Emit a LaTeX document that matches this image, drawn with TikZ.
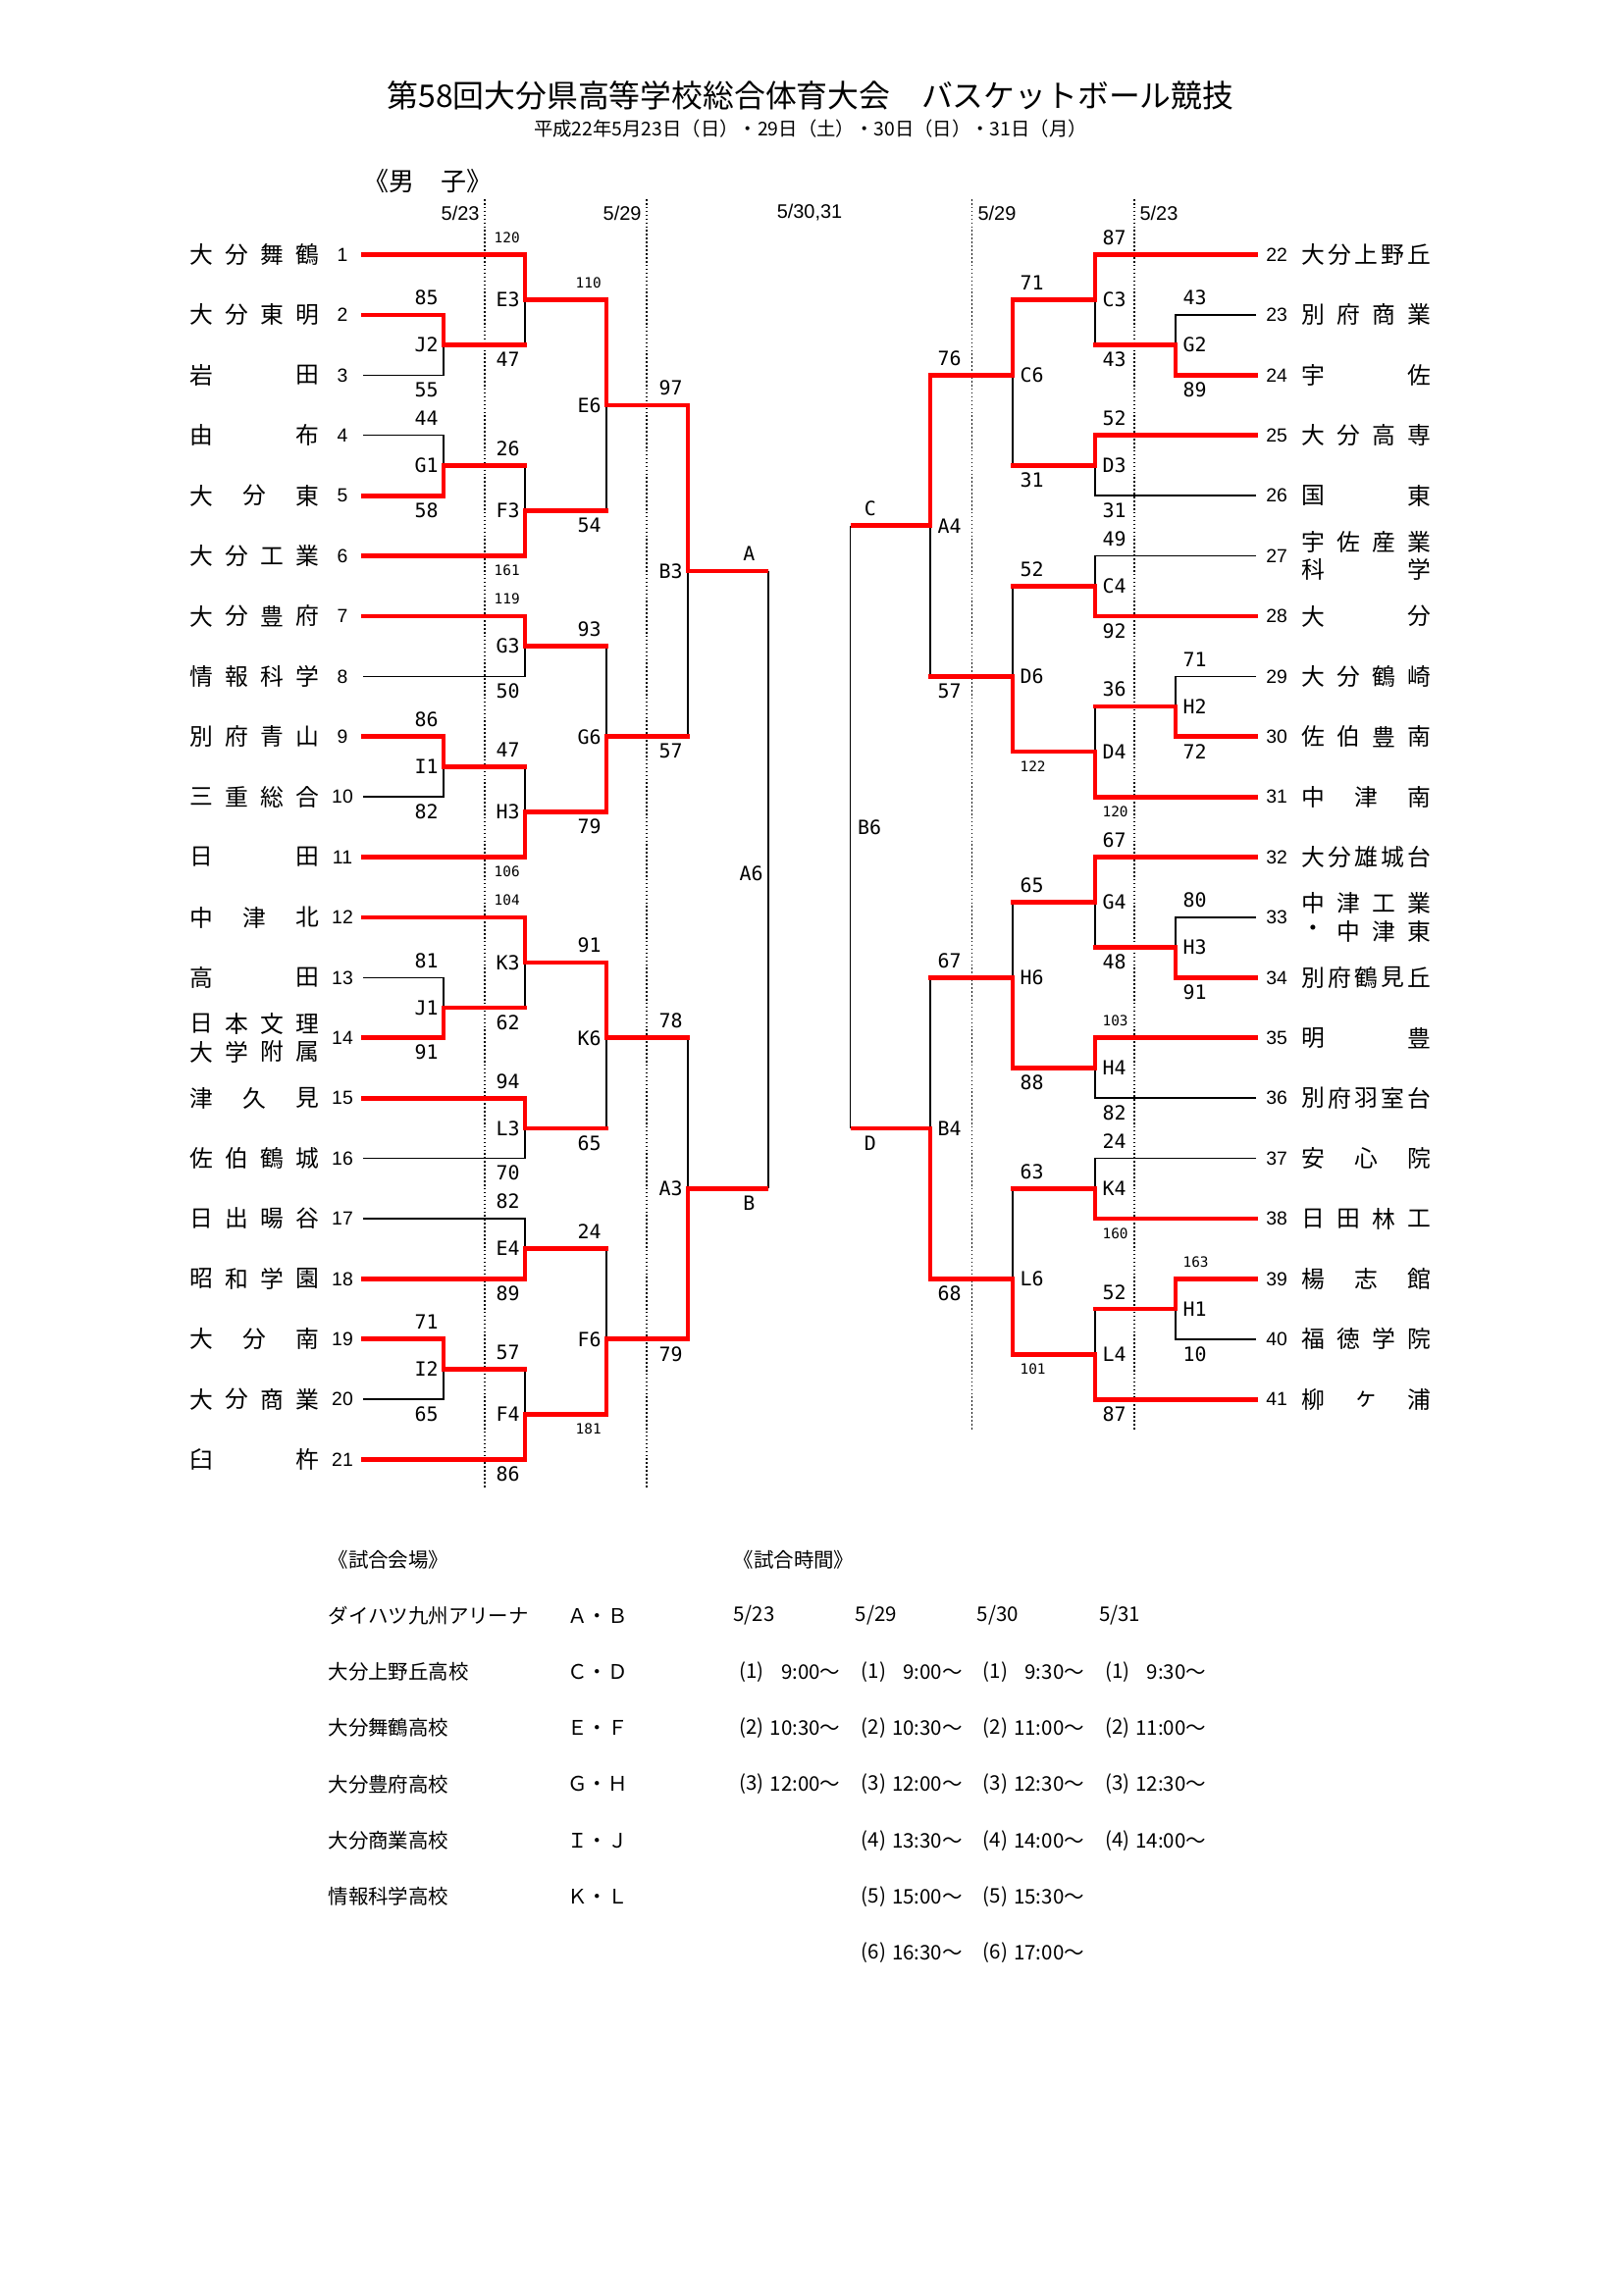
\documentclass[tikz,border=0pt]{standalone}
\usepackage{fontspec}
\setmainfont{Noto Sans CJK JP}
\newfontfamily\monofont{DejaVu Sans Mono}
\newfontfamily\arialfont{Liberation Sans}
\usetikzlibrary{positioning, calc}
\definecolor{winred}{RGB}{255,0,0}
\tikzset{
  winline/.style={draw=winred, line width=0.6mm, line cap=rect},
  loseline/.style={draw=black, line width=0.18mm},
  dayline/.style={draw=black, line width=0.2mm, dash pattern=on 0.2mm off 0.3mm},
  teamname/.style={inner sep=0pt, font=\fontsize{8.6}{10}\selectfont},
  teamno/.style={inner sep=0pt, font=\arialfont\fontsize{7}{8}\selectfont},
  glabel/.style={inner sep=0pt, font=\monofont\fontsize{7.2}{8}\selectfont},
  topL/.style={glabel, anchor=east, xshift=-0.6mm, yshift=2.2mm},
  botL/.style={glabel, anchor=east, xshift=-0.6mm, yshift=-1.9mm},
  topR/.style={glabel, anchor=west, xshift=0.9mm, yshift=2.2mm},
  botR/.style={glabel, anchor=west, xshift=0.9mm, yshift=-1.9mm},
  datelbl/.style={inner sep=0pt, font=\arialfont\fontsize{7.2}{8}\selectfont},
  tabtext/.style={inner sep=0pt, font=\fontsize{7.4}{9}\selectfont}
}
% small score
\newcommand\smsc[1]{{\fontsize{5.2}{6}\selectfont #1}}
% winner #1, loser team line #2, game #3
\newcommand\game[3]{%
  \draw[loseline] (#2) -| (#3);
  \draw[winline] (#1) -| (#3);}
% winner #1, loser game line #2, game #3
\newcommand\gamex[3]{%
  \draw[loseline] (#2) -| (#3);
  \draw[winline] (#2) -- (#2 -| #3);
  \draw[winline] (#1) -| (#3);}
% game label and scores, left and right half
\newcommand\resL[6]{%
  \node[glabel, left=0.6mm of #1] (#1l) {#2};
  \node[topL] (#1a) at (#3 -| #1) {#5};
  \node[botL] (#1b) at (#4 -| #1) {#6};}
\newcommand\resR[6]{%
  \node[glabel, right=0.9mm of #1] (#1l) {#2};
  \node[topR] (#1a) at (#3 -| #1) {#5};
  \node[botR] (#1b) at (#4 -| #1) {#6};}
% school name spread over a fixed width
\newcommand\spreadname[5][]{%
  \foreach \ch [count=\k] in {#5} {\global\let\nch\k}
  \foreach \ch [count=\k from 0] in {#5}
    \node[teamname, #1] (#2-\k) at ({#3+108*\k/(\nch-1)}, #4) {\ch};}

\begin{document}
\begin{tikzpicture}[x=0.127mm, y=-0.127mm]
\useasboundingbox (0,0) rectangle (1654,2339);

% Title
\node[font=\fontsize{11.5}{13}\selectfont] (title) at (826,97) {第58回大分県高等学校総合体育大会　バスケットボール競技};
\node[font=\fontsize{7}{8}\selectfont] (period) at (826,131) {平成22年5月23日（日）・29日（土）・30日（日）・31日（月）};
\node[font=\fontsize{9.4}{11}\selectfont] (boys) at (436,185) {《男　子》};

% Round dates
\node[datelbl, anchor=east] (day1) at (489,217) {5/23};
\node[datelbl, anchor=east] (day2) at (654,217) {5/29};
\node[datelbl] (day3) at (825,217) {5/30,31};
\node[datelbl, anchor=west] (day4) at (996,217) {5/29};
\node[datelbl, anchor=west] (day5) at (1161,217) {5/23};
\foreach \x/\y in {494/1517, 659/1517, 990.5/1457, 1156/1457}
  \draw[dayline] (\x,203) -- (\x,\y);

\begin{scope}[yshift=-32.96mm, y=-7.798mm]
  % Team lines
  \foreach \rw [count=\nn] in {0,...,20} \coordinate (t\nn) at (370,\rw);
  \foreach \rw [count=\nn from 22] in {0,...,19} \coordinate (t\nn) at (1280,\rw);
  \foreach \nn [count=\rw from 0] in {1,...,21} \node[teamno] (no\nn) at (349,\rw) {\nn};
  \foreach \nn [count=\rw from 0] in {22,...,41} \node[teamno] (no\nn) at (1301,\rw) {\nn};

  % Games, left half
  \coordinate (gJ2) at (452,1.5);
  \coordinate (gE3) at (535,0.75);
  \coordinate (gG1) at (452,3.5);
  \coordinate (gF3) at (535,4.25);
  \coordinate (gE6) at (618,2.5);
  \coordinate (gG3) at (535,6.5);
  \coordinate (gI1) at (452,8.5);
  \coordinate (gH3) at (535,9.25);
  \coordinate (gG6) at (618,8);
  \coordinate (gB3) at (701,5.25);
  \coordinate (gJ1) at (452,12.5);
  \coordinate (gK3) at (535,11.75);
  \coordinate (gL3) at (535,14.5);
  \coordinate (gK6) at (618,13);
  \coordinate (gE4) at (535,16.5);
  \coordinate (gI2) at (452,18.5);
  \coordinate (gF4) at (535,19.25);
  \coordinate (gF6) at (618,18);
  \coordinate (gA3) at (701,15.5);
  \coordinate (fA) at (783,5.25);
  \coordinate (fB) at (783,15.5);

  % Games, right half
  \coordinate (gG2) at (1198,1.5);
  \coordinate (gC3) at (1116,0.75);
  \coordinate (gD3) at (1116,3.5);
  \coordinate (gC6) at (1032,2);
  \coordinate (gC4) at (1116,5.5);
  \coordinate (gH2) at (1198,7.5);
  \coordinate (gD4) at (1116,8.25);
  \coordinate (gD6) at (1032,7);
  \coordinate (gA4) at (948,4.5);
  \coordinate (gH3r) at (1198,11.5);
  \coordinate (gG4) at (1116,10.75);
  \coordinate (gH4) at (1116,13.5);
  \coordinate (gH6) at (1032,12);
  \coordinate (gK4) at (1116,15.5);
  \coordinate (gH1) at (1198,17.5);
  \coordinate (gL4) at (1116,18.25);
  \coordinate (gL6) at (1032,17);
  \coordinate (gB4) at (948,14.5);
  \coordinate (fC) at (866.5,4.5);
  \coordinate (fD) at (866.5,14.5);

  % Results, left
  \game{t2}{t3}{gJ2}
  \gamex{t1}{gJ2}{gE3}
  \game{t5}{t4}{gG1}
  \gamex{t6}{gG1}{gF3}
  \gamex{gE3}{gF3}{gE6}
  \game{t7}{t8}{gG3}
  \game{t9}{t10}{gI1}
  \gamex{t11}{gI1}{gH3}
  \gamex{gH3}{gG3}{gG6}
  \gamex{gE6}{gG6}{gB3}
  \game{t14}{t13}{gJ1}
  \gamex{t12}{gJ1}{gK3}
  \game{t15}{t16}{gL3}
  \gamex{gK3}{gL3}{gK6}
  \game{t18}{t17}{gE4}
  \game{t19}{t20}{gI2}
  \gamex{t21}{gI2}{gF4}
  \gamex{gF4}{gE4}{gF6}
  \gamex{gF6}{gK6}{gA3}

  % Results, right
  \game{t24}{t23}{gG2}
  \gamex{t22}{gG2}{gC3}
  \game{t25}{t26}{gD3}
  \gamex{gC3}{gD3}{gC6}
  \game{t28}{t27}{gC4}
  \game{t30}{t29}{gH2}
  \gamex{t31}{gH2}{gD4}
  \gamex{gD4}{gC4}{gD6}
  \gamex{gC6}{gD6}{gA4}
  \game{t34}{t33}{gH3r}
  \gamex{t32}{gH3r}{gG4}
  \game{t35}{t36}{gH4}
  \gamex{gH4}{gG4}{gH6}
  \game{t38}{t37}{gK4}
  \game{t39}{t40}{gH1}
  \gamex{t41}{gH1}{gL4}
  \gamex{gL4}{gK4}{gL6}
  \gamex{gL6}{gH6}{gB4}

  % Semifinals
  \draw[loseline] (fA) -- (fB);
  \draw[loseline] (fC) -- (fD);
  \draw[winline, line cap=butt] (gB3) -- (fA);
  \draw[winline, line cap=butt] (gA3) -- (fB);
  \draw[winline, line cap=butt] (gA4) -- (fC);
  \draw[winline, line cap=butt] (gB4) -- (fD);

  % Labels and scores
  \resL{gJ2}{J2}{t2}{t3}{85}{55}
  \resL{gE3}{E3}{t1}{gJ2}{\smsc{120}}{47}
  \resL{gG1}{G1}{t4}{t5}{44}{58}
  \resL{gF3}{F3}{gG1}{t6}{26}{\smsc{161}}
  \resL{gE6}{E6}{gE3}{gF3}{\smsc{110}}{54}
  \resL{gG3}{G3}{t7}{t8}{\smsc{119}}{50}
  \resL{gI1}{I1}{t9}{t10}{86}{82}
  \resL{gH3}{H3}{gI1}{t11}{47}{\smsc{106}}
  \resL{gG6}{G6}{gG3}{gH3}{93}{79}
  \resL{gB3}{B3}{gE6}{gG6}{97}{57}
  \resL{gJ1}{J1}{t13}{t14}{81}{91}
  \resL{gK3}{K3}{t12}{gJ1}{\smsc{104}}{62}
  \resL{gL3}{L3}{t15}{t16}{94}{70}
  \resL{gK6}{K6}{gK3}{gL3}{91}{65}
  \resL{gE4}{E4}{t17}{t18}{82}{89}
  \resL{gI2}{I2}{t19}{t20}{71}{65}
  \resL{gF4}{F4}{gI2}{t21}{57}{86}
  \resL{gF6}{F6}{gE4}{gF4}{24}{\smsc{181}}
  \resL{gA3}{A3}{gK6}{gF6}{78}{79}

  \resR{gG2}{G2}{t23}{t24}{43}{89}
  \resR{gC3}{C3}{t22}{gG2}{87}{43}
  \resR{gD3}{D3}{t25}{t26}{52}{31}
  \resR{gC6}{C6}{gC3}{gD3}{71}{31}
  \resR{gC4}{C4}{t27}{t28}{49}{92}
  \resR{gH2}{H2}{t29}{t30}{71}{72}
  \resR{gD4}{D4}{gH2}{t31}{36}{\smsc{120}}
  \resR{gD6}{D6}{gC4}{gD4}{52}{\smsc{122}}
  \resR{gA4}{A4}{gC6}{gD6}{76}{57}
  \resR{gH3r}{H3}{t33}{t34}{80}{91}
  \resR{gG4}{G4}{t32}{gH3r}{67}{48}
  \resR{gH4}{H4}{t35}{t36}{\smsc{103}}{82}
  \resR{gH6}{H6}{gG4}{gH4}{65}{88}
  \resR{gK4}{K4}{t37}{t38}{24}{\smsc{160}}
  \resR{gH1}{H1}{t39}{t40}{\smsc{163}}{10}
  \resR{gL4}{L4}{gH1}{t41}{52}{87}
  \resR{gL6}{L6}{gK4}{gL4}{63}{\smsc{101}}
  \resR{gB4}{B4}{gH6}{gL6}{67}{68}

  \node[glabel, xshift=-2.5mm, yshift=2.2mm] (lA) at (fA) {A};
  \node[glabel, xshift=-2.5mm, yshift=-1.9mm] (lB) at (fB) {B};
  \node[glabel, anchor=east, xshift=-0.6mm] (lA6) at ($(fA)!0.49!(fB)$) {A6};
  \node[glabel, xshift=2.6mm, yshift=2.2mm] (lC) at (fC) {C};
  \node[glabel, xshift=2.6mm, yshift=-1.9mm] (lD) at (fD) {D};
  \node[glabel, anchor=west, xshift=0.9mm] (lB6) at ($(fC)!0.5!(fD)$) {B6};

  % Schools, left
  \spreadname{nm1}{205.5}{0}{大,分,舞,鶴}
  \spreadname{nm2}{205.5}{1}{大,分,東,明}
  \spreadname{nm3}{205.5}{2}{岩,田}
  \spreadname{nm4}{205.5}{3}{由,布}
  \spreadname{nm5}{205.5}{4}{大,分,東}
  \spreadname{nm6}{205.5}{5}{大,分,工,業}
  \spreadname{nm7}{205.5}{6}{大,分,豊,府}
  \spreadname{nm8}{205.5}{7}{情,報,科,学}
  \spreadname{nm9}{205.5}{8}{別,府,青,山}
  \spreadname{nm10}{205.5}{9}{三,重,総,合}
  \spreadname{nm11}{205.5}{10}{日,田}
  \spreadname{nm12}{205.5}{11}{中,津,北}
  \spreadname{nm13}{205.5}{12}{高,田}
  \spreadname[yshift=1.8mm]{nm14a}{205.5}{13}{日,本,文,理}
  \spreadname[yshift=-1.8mm]{nm14b}{205.5}{13}{大,学,附,属}
  \spreadname{nm15}{205.5}{14}{津,久,見}
  \spreadname{nm16}{205.5}{15}{佐,伯,鶴,城}
  \spreadname{nm17}{205.5}{16}{日,出,暘,谷}
  \spreadname{nm18}{205.5}{17}{昭,和,学,園}
  \spreadname{nm19}{205.5}{18}{大,分,南}
  \spreadname{nm20}{205.5}{19}{大,分,商,業}
  \spreadname{nm21}{205.5}{20}{臼,杵}

  % Schools, right
  \spreadname{nm22}{1338}{0}{大,分,上,野,丘}
  \spreadname{nm23}{1338}{1}{別,府,商,業}
  \spreadname{nm24}{1338}{2}{宇,佐}
  \spreadname{nm25}{1338}{3}{大,分,高,専}
  \spreadname{nm26}{1338}{4}{国,東}
  \spreadname[yshift=1.8mm]{nm27a}{1338}{5}{宇,佐,産,業}
  \spreadname[yshift=-1.8mm]{nm27b}{1338}{5}{科,学}
  \spreadname{nm28}{1338}{6}{大,分}
  \spreadname{nm29}{1338}{7}{大,分,鶴,崎}
  \spreadname{nm30}{1338}{8}{佐,伯,豊,南}
  \spreadname{nm31}{1338}{9}{中,津,南}
  \spreadname{nm32}{1338}{10}{大,分,雄,城,台}
  \spreadname[yshift=1.8mm]{nm33a}{1338}{11}{中,津,工,業}
  \spreadname[yshift=-1.8mm]{nm33b}{1338}{11}{・,中,津,東}
  \spreadname{nm34}{1338}{12}{別,府,鶴,見,丘}
  \spreadname{nm35}{1338}{13}{明,豊}
  \spreadname{nm36}{1338}{14}{別,府,羽,室,台}
  \spreadname{nm37}{1338}{15}{安,心,院}
  \spreadname{nm38}{1338}{16}{日,田,林,工}
  \spreadname{nm39}{1338}{17}{楊,志,館}
  \spreadname{nm40}{1338}{18}{福,徳,学,院}
  \spreadname{nm41}{1338}{19}{柳,ヶ,浦}
\end{scope}

% Venues
\node[tabtext, anchor=west] (venues) at (334,1590) {《試合会場》};
\foreach \v/\c [count=\k from 0] in {ダイハツ九州アリーナ/Ａ・Ｂ, 大分上野丘高校/Ｃ・Ｄ, 大分舞鶴高校/Ｅ・Ｆ, 大分豊府高校/Ｇ・Ｈ, 大分商業高校/Ｉ・Ｊ, 情報科学高校/Ｋ・Ｌ} {
  \node[tabtext, anchor=west] (ven\k) at (334,1646.5+57.3*\k) {\v};
  \node[tabtext] (crt\k) at (609,1646.5+57.3*\k) {\c};
}

% Times
\node[tabtext, anchor=west] (times) at (747,1590) {《試合時間》};
\foreach \d [count=\k from 0] in {23,29,30,31}
  \node[tabtext, anchor=west] (day\d) at (747+124.2*\k,1646.5) {5/\d};
\foreach \tm [count=\k] in {9:00,10:30,12:00} {
  \node[tabtext, anchor=west] (pa\k) at (753,1646.5+57.3*\k) {(\k)};
  \node[tabtext, anchor=east] (ta\k) at (857,1646.5+57.3*\k) {\tm～};}
\foreach \tm [count=\k] in {9:00,10:30,12:00,13:30,15:00,16:30} {
  \node[tabtext, anchor=west] (pb\k) at (877.2,1646.5+57.3*\k) {(\k)};
  \node[tabtext, anchor=east] (tb\k) at (981.2,1646.5+57.3*\k) {\tm～};}
\foreach \tm [count=\k] in {9:30,11:00,12:30,14:00,15:30,17:00} {
  \node[tabtext, anchor=west] (pc\k) at (1001.4,1646.5+57.3*\k) {(\k)};
  \node[tabtext, anchor=east] (tc\k) at (1105.4,1646.5+57.3*\k) {\tm～};}
\foreach \tm [count=\k] in {9:30,11:00,12:30,14:00} {
  \node[tabtext, anchor=west] (pd\k) at (1125.6,1646.5+57.3*\k) {(\k)};
  \node[tabtext, anchor=east] (td\k) at (1229.6,1646.5+57.3*\k) {\tm～};}
\end{tikzpicture}
\end{document}
